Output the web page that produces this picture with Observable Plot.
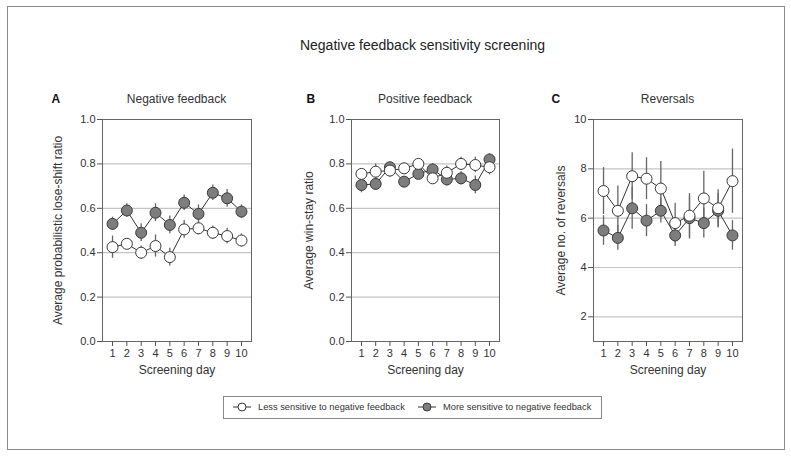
<!DOCTYPE html>
<html>
<head>
<meta charset="utf-8">
<script src="https://cdn.jsdelivr.net/npm/d3@7"></script>
<script src="https://cdn.jsdelivr.net/npm/@observablehq/plot@0.6"></script>
<style>
  html, body { margin: 0; padding: 0; background: white; }
  body { width: 791px; height: 457px; position: relative; overflow: hidden;
         font-family: "Liberation Sans", Arial, Helvetica, sans-serif; color: #333; }
  .abs { position: absolute; white-space: nowrap; line-height: 1; }
  #border { position: absolute; left: 7px; top: 6px; width: 776px; height: 442px; border: 1.5px solid #8a8a8a; }
  .panel { position: absolute; top: 80px; }
  #legend { position: absolute; left: 223px; top: 396px; width: 377px; height: 21px; border: 1px solid #888; }
</style>
</head>
<body>
<div id="border"></div>
<div id="root"></div>
<script>
// ---- data ----
const days = [1, 2, 3, 4, 5, 6, 7, 8, 9, 10];
const groupLabels = ["Less sensitive to negative feedback", "More sensitive to negative feedback"];

const negLess    = [0.425, 0.44, 0.40, 0.43, 0.38, 0.505, 0.51, 0.49, 0.475, 0.455];
const negLessErr = [0.05, 0.02, 0.03, 0.05, 0.04, 0.04, 0.03, 0.03, 0.035, 0.03];
const negMore    = [0.53, 0.59, 0.49, 0.58, 0.525, 0.625, 0.575, 0.67, 0.645, 0.585];
const negMoreErr = [0.03, 0.03, 0.04, 0.04, 0.04, 0.035, 0.04, 0.035, 0.04, 0.03];

const posLess    = [0.755, 0.765, 0.77, 0.78, 0.80, 0.735, 0.76, 0.80, 0.795, 0.785];
const posLessErr = [0.02, 0.035, 0.03, 0.025, 0.02, 0.025, 0.03, 0.03, 0.035, 0.035];
const posMore    = [0.705, 0.71, 0.785, 0.72, 0.755, 0.775, 0.73, 0.735, 0.705, 0.82];
const posMoreErr = [0.035, 0.03, 0.02, 0.02, 0.02, 0.025, 0.03, 0.03, 0.04, 0.025];

const revLess    = [7.1, 6.3, 7.7, 7.6, 7.2, 5.8, 6.1, 6.8, 6.4, 7.5];
const revLessErr = [0.95, 1.0, 0.95, 0.85, 1.1, 0.8, 0.9, 1.1, 0.75, 1.3];
const revMore    = [5.5, 5.2, 6.4, 5.9, 6.3, 5.3, 6.0, 5.8, 6.3, 5.3];
const revMoreErr = [0.6, 0.5, 0.85, 0.65, 0.5, 0.45, 0.85, 0.6, 0.7, 0.6];

const ratioTicks = [0, 0.2, 0.4, 0.6, 0.8, 1.0];
const ratioGrid = [0.2, 0.4, 0.6, 0.8];
const revTicks = [2, 4, 6, 8, 10];
const revGrid = [2, 4, 6, 8];

const mainTitle = "Negative feedback sensitivity screening";
const panels = [
  {letter: "A", title: "Negative feedback", ylabel: "Average probabilistic lose-shift ratio",
   less: negLess, lessErr: negLessErr, more: negMore, moreErr: negMoreErr,
   domain: [0, 1], ticks: ratioTicks, grid: ratioGrid, fmt: d3.format(".1f"),
   left: 10, mL: 92, mR: 9, labelDx: -44, letterX: 51.5},
  {letter: "B", title: "Positive feedback", ylabel: "Average win-stay ratio",
   less: posLess, lessErr: posLessErr, more: posMore, moreErr: posMoreErr,
   domain: [0, 1], ticks: ratioTicks, grid: ratioGrid, fmt: d3.format(".1f"),
   left: 260, mL: 91, mR: 11, labelDx: -42, letterX: 306.5},
  {letter: "C", title: "Reversals", ylabel: "Average no. of reversals",
   less: revLess, lessErr: revLessErr, more: revMore, moreErr: revMoreErr,
   domain: [1, 10], ticks: revTicks, grid: revGrid, fmt: d3.format("d"),
   left: 510, mL: 83, mR: 18, labelDx: -32, letterX: 551.5}
];

// ---- helpers ----
const root = document.getElementById("root");
function addText(str, x, baseline, fs, opts = {}) {
  const s = document.createElement("div");
  s.className = "abs";
  s.textContent = str;
  s.style.fontSize = fs + "px";
  s.style.top = (baseline - 0.8465 * fs) + "px";
  s.style.left = x + "px";
  if (opts.center) s.style.transform = "translateX(-50%)";
  if (opts.bold) s.style.fontWeight = "bold";
  if (opts.color) s.style.color = opts.color;
  root.appendChild(s);
  return s;
}

addText(mainTitle, 422.5, 50, 14, {center: true, color: "#222"});

const W = 250, H = 300, MT = 39, MB = 39;
for (const p of panels) {
  const more = days.map((d, i) => ({day: d, v: p.more[i], e: p.moreErr[i]}));
  const less = days.map((d, i) => ({day: d, v: p.less[i], e: p.lessErr[i]}));
  const chart = Plot.plot({
    width: W, height: H,
    marginLeft: p.mL, marginRight: p.mR, marginTop: MT, marginBottom: MB,
    style: {fontFamily: "Liberation Sans, Arial, sans-serif", fontSize: "11px", color: "#333",
            background: "transparent", overflow: "visible"},
    x: {domain: [0.3, 10.7]},
    y: {domain: p.domain},
    marks: [
      Plot.gridY(p.grid, {stroke: "#c4c4c4", strokeOpacity: 1, strokeWidth: 1.2}),
      Plot.frame({stroke: "#666", strokeWidth: 1}),
      Plot.axisX(days, {tickSize: 5, tickPadding: 3, label: null, stroke: "#555"}),
      Plot.axisY(p.ticks, {tickSize: 5, tickPadding: 2, tickFormat: p.fmt, label: null, stroke: "#555"}),
      Plot.text(["Screening day"], {frameAnchor: "bottom", dy: 32, fontSize: 12, fill: "#333"}),
      Plot.text([p.ylabel], {frameAnchor: "left", textAnchor: "middle", rotate: -90, dx: p.labelDx, fontSize: 12, fill: "#333"}),
      Plot.ruleX(more, {x: "day", y1: d => d.v - d.e, y2: d => d.v + d.e, stroke: "#666", strokeWidth: 1.3}),
      Plot.ruleX(less, {x: "day", y1: d => d.v - d.e, y2: d => d.v + d.e, stroke: "#666", strokeWidth: 1.3}),
      Plot.line(more, {x: "day", y: "v", stroke: "#333", strokeWidth: 1}),
      Plot.line(less, {x: "day", y: "v", stroke: "#333", strokeWidth: 1}),
      Plot.dot(more, {x: "day", y: "v", r: 5.5, fill: "#7d7d7d", stroke: "#3a3a3a", strokeWidth: 1}),
      Plot.dot(less, {x: "day", y: "v", r: 5.5, fill: "white", stroke: "#3a3a3a", strokeWidth: 1})
    ]
  });
  const wrap = document.createElement("div");
  wrap.className = "panel";
  wrap.style.left = p.left + "px";
  wrap.appendChild(chart);
  root.appendChild(wrap);

  const frameCenter = p.left + p.mL + (W - p.mL - p.mR) / 2;
  addText(p.title, frameCenter, 103, 12, {center: true});
  addText(p.letter, p.letterX, 103, 12, {bold: true, color: "#111"});
}

// ---- legend ----
const legend = document.createElement("div");
legend.id = "legend";
root.appendChild(legend);
function legendItem(symX, textX, fill, label) {
  const ns = "http://www.w3.org/2000/svg";
  const svg = document.createElementNS(ns, "svg");
  svg.setAttribute("width", 18); svg.setAttribute("height", 12);
  svg.style.position = "absolute"; svg.style.left = symX + "px"; svg.style.top = "401px";
  const ln = document.createElementNS(ns, "line");
  ln.setAttribute("x1", 0); ln.setAttribute("x2", 18); ln.setAttribute("y1", 6); ln.setAttribute("y2", 6);
  ln.setAttribute("stroke", "#333"); ln.setAttribute("stroke-width", 1);
  const c = document.createElementNS(ns, "circle");
  c.setAttribute("cx", 9); c.setAttribute("cy", 6); c.setAttribute("r", 4);
  c.setAttribute("fill", fill); c.setAttribute("stroke", "#3a3a3a");
  svg.appendChild(ln); svg.appendChild(c);
  root.appendChild(svg);
  addText(label, textX, 410.5, 9.3);
}
legendItem(233, 258, "white", groupLabels[0]);
legendItem(418, 443, "#7d7d7d", groupLabels[1]);
</script>
</body>
</html>
